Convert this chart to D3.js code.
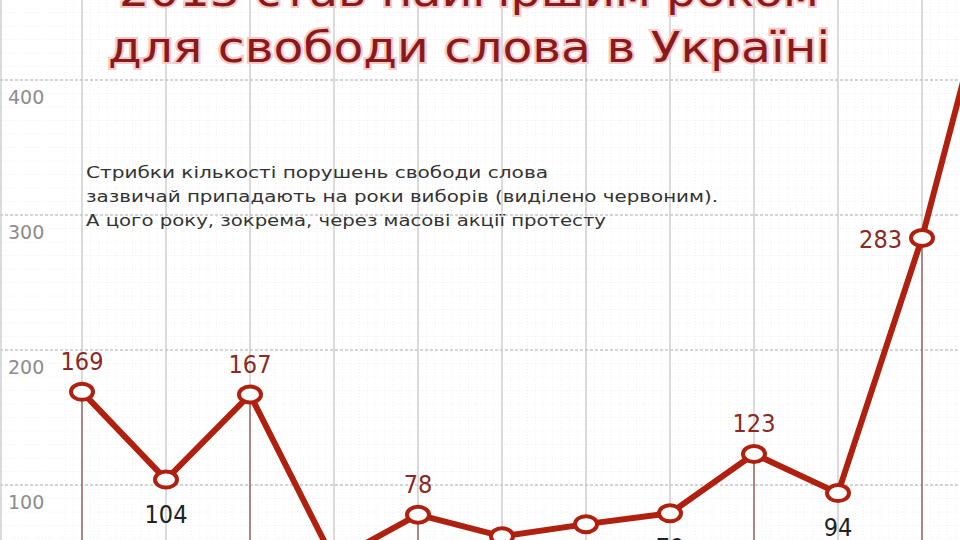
<!DOCTYPE html>
<html><head><meta charset="utf-8">
<script src="https://cdn.jsdelivr.net/npm/d3@7"></script>
<style>body{margin:0;background:#fff}svg{display:block}</style>
</head><body><svg id="c" width="960" height="540"></svg>
<script>
const years = [2001,2002,2003,2004,2005,2006,2007,2008,2009,2010,2011,2012,2013];
const values = [169,104,167,44,78,62,71,79,123,94,283,520];
const election = [true,false,true,false,true,false,false,false,true,false,true,false];
const yTicks = [100,200,300,400];
const titleLines = ["2013 став найгіршим роком","для свободи слова в Україні"];
const noteLines = ["Стрибки кількості порушень свободи слова","зазвичай припадають на роки виборів (виділено червоним).","А цого року, зокрема, через масові акції протесту"];

const svg = d3.select("#c");
const x = d3.scaleLinear().domain([0,1]).range([82,166]);
const y = d3.scaleLinear().domain([100,400]).range([485,80]);
const red = "#b0200f", dark = "#8a1a1a";

// minor grid
const g = svg.append("g");
d3.range(-2,120).forEach(i=>{ const xv=x(i/10); if(xv>=0&&xv<=960) g.append("line").attr("x1",xv).attr("x2",xv).attr("y1",0).attr("y2",540).attr("stroke","#ececec").attr("stroke-dasharray","1,2").attr("stroke-width",0.8);});
d3.range(0,72).forEach(i=>{ const yv=y(i*10); if(yv>=0&&yv<=540) g.append("line").attr("x1",0).attr("x2",960).attr("y1",yv).attr("y2",yv).attr("stroke","#ececec").attr("stroke-dasharray","1,2").attr("stroke-width",0.8);});
// major vertical
d3.range(-1,12).forEach(i=>g.append("line").attr("x1",x(i)).attr("x2",x(i)).attr("y1",0).attr("y2",540).attr("stroke","#cfcfcf").attr("stroke-width",1.5));
svg.append("line").attr("x1",1).attr("x2",1).attr("y1",0).attr("y2",540).attr("stroke","#cfcfcf").attr("stroke-width",1.5);
// major horizontal
yTicks.forEach(t=>{
  g.append("line").attr("x1",0).attr("x2",960).attr("y1",y(t)).attr("y2",y(t)).attr("stroke","#c8c8c8").attr("stroke-width",1.5).attr("stroke-dasharray","3,2");
  svg.append("text").attr("x",8).attr("y",y(t)+24).attr("font-family","DejaVu Sans").attr("font-size",19).attr("fill","#8c8c8c").text(t);
});

// title
const tg = svg.append("g").attr("font-family","DejaVu Sans").attr("font-size",43).attr("text-anchor","middle");
tg.append("text").attr("x",469).attr("y",6).attr("fill",dark).attr("stroke","#f3c9c9").attr("stroke-width",4).attr("paint-order","stroke").attr("textLength",700).attr("lengthAdjust","spacingAndGlyphs").text(titleLines[0]);
tg.append("text").attr("x",469).attr("y",62).attr("fill",dark).attr("stroke","#f3c9c9").attr("stroke-width",4).attr("paint-order","stroke").attr("textLength",722).attr("lengthAdjust","spacingAndGlyphs").text(titleLines[1]);

// note
const nl=[462,632,520];
noteLines.forEach((t,i)=>svg.append("text").attr("x",86).attr("y",178+i*24).attr("font-family","DejaVu Sans").attr("font-size",16).attr("fill","#333").attr("textLength",nl[i]).attr("lengthAdjust","spacingAndGlyphs").text(t));

// stems
values.forEach((v,i)=>{ if(election[i]) svg.append("line").attr("x1",x(i)).attr("x2",x(i)).attr("y1",y(v)).attr("y2",540).attr("stroke","#9a6a6a").attr("stroke-width",1.5);});

// line
const line = d3.line().x((d,i)=>x(i)).y(d=>y(d));
svg.append("path").datum(values).attr("d",line).attr("fill","none").attr("stroke",red).attr("stroke-width",6).attr("stroke-linejoin","round");
svg.selectAll("ellipse.p").data(values).join("ellipse").attr("cx",(d,i)=>x(i)).attr("cy",d=>y(d)).attr("rx",11).attr("ry",8).attr("fill","#fff").attr("stroke",red).attr("stroke-width",4);

// labels
svg.selectAll("text.v").data(values).join("text").attr("class","v")
  .attr("x",(d,i)=>x(i)+(i===10?-20:0)).attr("y",(d,i)=>i===10?y(d)+10:(election[i]?y(d)-22:y(d)+43))
  .attr("text-anchor",(d,i)=>i===10?"end":"middle").attr("font-family","DejaVu Sans Condensed").attr("font-size",25)
  .attr("fill",(d,i)=>election[i]?"#8a2a22":"#222").text(d=>d);
</script></body></html>
